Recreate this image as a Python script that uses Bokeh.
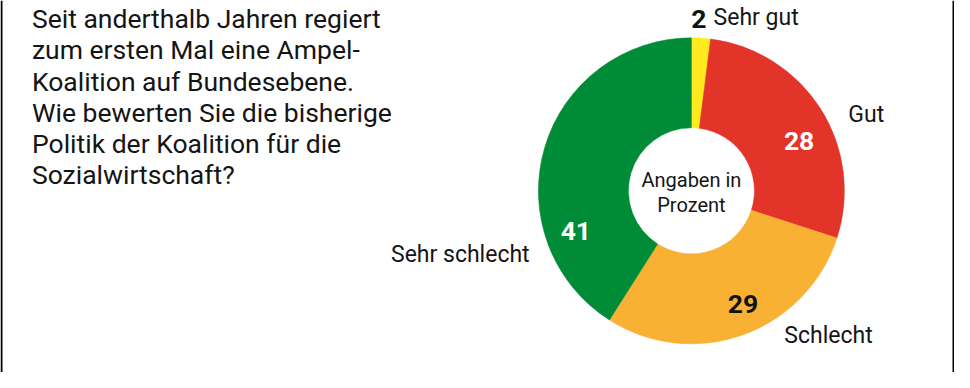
from bokeh.plotting import figure
from bokeh.models import Range1d, ColumnDataSource
from bokeh.core.properties import value
from bokeh.embed import file_html
from bokeh.resources import INLINE
import math

# ---- data ----
categories = ["Sehr gut", "Gut", "Schlecht", "Sehr schlecht"]
values = [2, 28, 29, 41]
colors = ["#FFEA1F", "#E3342A", "#F8B133", "#008C36"]
number_colors = ["#111111", "#FFFFFF", "#111111", "#FFFFFF"]
title_lines = [
    "Seit anderthalb Jahren regiert",
    "zum ersten Mal eine Ampel-",
    "Koalition auf Bundesebene.",
    "Wie bewerten Sie die bisherige",
    "Politik der Koalition für die",
    "Sozialwirtschaft?",
]
center_lines = ["Angaben in", "Prozent"]

FONT = "Roboto"
W, H = 954, 372
SX, SY = W / 970, H / 388   # reference image -> canvas

def X(x):
    return x * SX

def Y(y):
    return H - y * SY

p = figure(width=W, height=H, output_backend="svg", toolbar_location=None,
           x_range=Range1d(0, W), y_range=Range1d(0, H),
           min_border=0, outline_line_color=None)
p.axis.visible = False
p.grid.visible = False
p.background_fill_color = "white"
p.border_fill_color = "white"

# side borders
p.segment(x0=[1, W - 1], y0=[0, 0], x1=[1, W - 1], y1=[H, H],
          line_color="#000000", line_width=2)

# donut
cx, cy = X(702.5), Y(198.5)
total = sum(values)
starts, ends = [], []
cum = 0
for v in values:
    starts.append(math.pi / 2 - 2 * math.pi * cum / total)
    cum += v
    ends.append(math.pi / 2 - 2 * math.pi * cum / total)
src = ColumnDataSource(dict(start=starts, end=ends, color=colors))
p.annular_wedge(x=cx, y=cy, inner_radius=63, outer_radius=153,
                inner_radius_units="screen", outer_radius_units="screen",
                start_angle="start", end_angle="end", direction="clock",
                fill_color="color", line_color="color", line_width=0.5, source=src)

# title
for i, line in enumerate(title_lines):
    p.text(x=[X(32)], y=[Y(19 + i * 32.5)], text=[line], text_font=value(FONT),
           text_font_size="26.5px", text_color="#151515", text_baseline="alphabetic",
           text_align="left")

# center text
for i, line in enumerate(center_lines):
    p.text(x=[X(702.5)], y=[Y(187 + i * 26.5)], text=[line], text_font=value(FONT),
           text_font_size="20px", text_color="#151515", text_baseline="alphabetic",
           text_align="center")

# numbers
num_pos = [(710, 19), (812, 147), (755, 317), (585, 240)]
for (x, y), v, c in zip(num_pos, values, number_colors):
    p.text(x=[X(x)], y=[Y(y)], text=[str(v)], text_font=value(FONT),
           text_font_style="bold", text_font_size="26.5px", text_color=c,
           text_baseline="alphabetic", text_align="center")

# category labels
lab_pos = [(725, 18, "left"), (862, 119, "left"), (797, 349, "left"), (538, 265, "right")]
for (x, y, al), name in zip(lab_pos, categories):
    p.text(x=[X(x)], y=[Y(y)], text=[name], text_font=value(FONT),
           text_font_size="23px", text_color="#151515",
           text_baseline="alphabetic", text_align=al)

open("out.html", "w").write(file_html(p, INLINE))
